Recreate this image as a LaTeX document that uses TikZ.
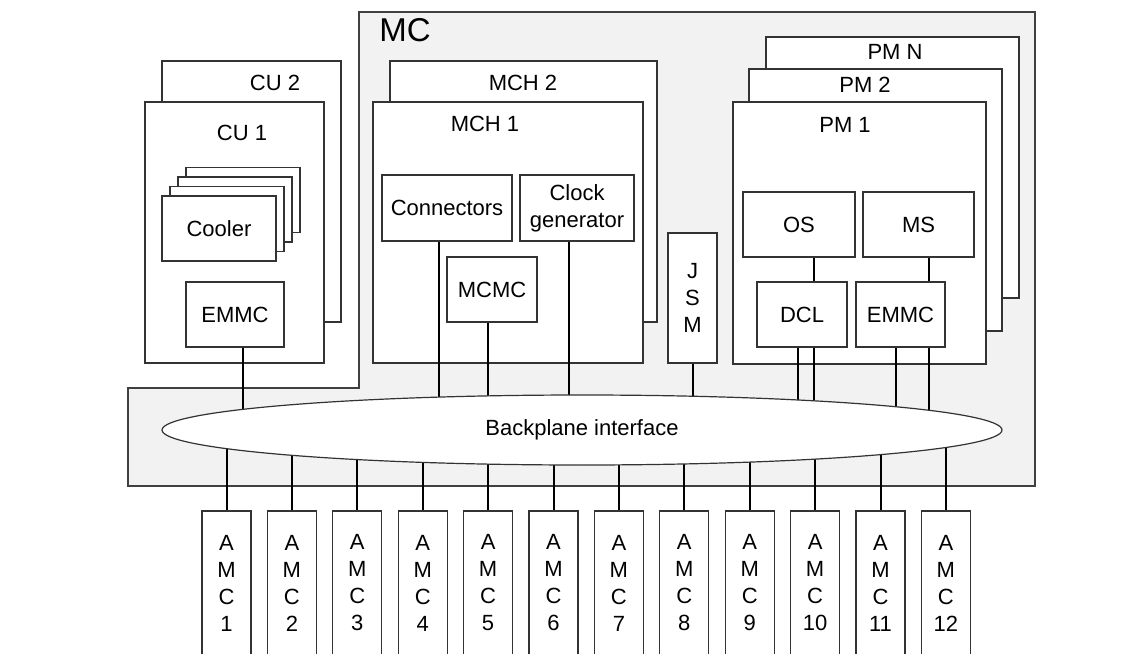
\documentclass[tikz,border=0pt]{standalone}
\usepackage{fontspec}
\setmainfont{Liberation Sans}
\usetikzlibrary{shapes.geometric}
\tikzset{
  unit/.style={draw=black!80, fill=white, line width=1.2pt, inner sep=0pt, align=center},
  wire/.style={line width=2pt, black},
}
\newcommand{\lbl}{\fontsize{22}{27}\selectfont}
\begin{document}
\begin{tikzpicture}[x=1pt, y=-1pt, font=\lbl]
\useasboundingbox (0,0) rectangle (1140,653);
\clip (0,0) rectangle (1140,653);
% MC shelf
\draw[fill=black!5, draw=black!75, line width=1.2pt] (359,12) -- (1035,12) -- (1035,486) -- (128,486) -- (128,388) -- (359,388) -- cycle;
\node[font=\fontsize{33}{33}\selectfont] (mc) at (405,30) {MC};
% cooling units
\node[unit, minimum width=179pt, minimum height=261pt] (cu2) at (251.5,191.5) {};
\node (cu2lbl) at (275,83) {CU 2};
\node[unit, minimum width=179pt, minimum height=261pt] (cu1) at (234.5,232.5) {};
\node (cu1lbl) at (242,133) {CU 1};
\foreach \k in {3,2,1}
  \node[unit, minimum width=114pt, minimum height=65pt] (cool\k) at (219+8*\k, 228.5-9.5*\k) {};
\node[unit, minimum width=114pt, minimum height=65pt] (cooler) at (219,228.5) {Cooler};
\node[unit, minimum width=98pt, minimum height=65pt] (cuemmc) at (235,314.5) {EMMC};
% MCH
\node[unit, minimum width=267pt, minimum height=261pt] (mch2) at (523.5,191.5) {};
\node (mch2lbl) at (523,83) {MCH 2};
\node[unit, minimum width=270pt, minimum height=261pt] (mch1) at (508,232.5) {};
\node (mch1lbl) at (485,124) {MCH 1};
\node[unit, minimum width=130pt, minimum height=66pt] (conn) at (447,208) {Connectors};
\node[unit, minimum width=114pt, minimum height=66pt] (clk) at (577,208) {Clock\\generator};
\node[unit, minimum width=90pt, minimum height=65pt] (mcmc) at (492,289.5) {MCMC};
% JSM
\node[unit, minimum width=49pt, minimum height=130pt] (jsm) at (692.5,298) {J\\S\\M};
% PM
\node[unit, minimum width=253pt, minimum height=261pt] (pmn) at (892.5,167.5) {};
\node (pmnlbl) at (895,52) {PM N};
\node[unit, minimum width=253pt, minimum height=262pt] (pm2) at (875.5,200) {};
\node (pm2lbl) at (865,85) {PM 2};
\node[unit, minimum width=253pt, minimum height=262pt] (pm1) at (859.5,233) {};
\node (pm1lbl) at (845,125) {PM 1};
\node[unit, minimum width=112pt, minimum height=65pt] (os) at (799,224.5) {OS};
\node[unit, minimum width=111pt, minimum height=65pt] (ms) at (918.5,224.5) {MS};
\node[unit, minimum width=90pt, minimum height=65pt] (dcl) at (802,314.5) {DCL};
\node[unit, minimum width=89pt, minimum height=65pt] (pmemmc) at (900.5,314.5) {EMMC};
% wires
\coordinate (bpc) at (582,430);
\draw[wire] ([xshift=15pt]os.south) -- ([xshift=15pt]os.south |- dcl.north);
\draw[wire] ([xshift=10.5pt]ms.south) -- ([xshift=10.5pt]ms.south |- pmemmc.north);
\draw[wire] ([xshift=8pt]cuemmc.south) -- ([xshift=8pt]cuemmc.south |- bpc);
\draw[wire] ([xshift=-8pt]conn.south) -- ([xshift=-8pt]conn.south |- bpc);
\draw[wire] ([xshift=-4pt]mcmc.south) -- ([xshift=-4pt]mcmc.south |- bpc);
\draw[wire] ([xshift=-8pt]clk.south) -- ([xshift=-8pt]clk.south |- bpc);
\draw[wire] (jsm.south) -- (jsm.south |- bpc);
\draw[wire] ([xshift=-4pt]dcl.south) -- ([xshift=-4pt]dcl.south |- bpc);
\draw[wire] ([xshift=12pt]dcl.south) -- ([xshift=12pt]dcl.south |- bpc);
\draw[wire] ([xshift=-4.5pt]pmemmc.south) -- ([xshift=-4.5pt]pmemmc.south |- bpc);
\draw[wire] ([xshift=28.5pt]pmemmc.south) -- ([xshift=28.5pt]pmemmc.south |- bpc);
% AMC slots
\foreach \i in {1,...,12} {
  \node[unit, minimum width=49pt, minimum height=144pt] (amc\i) at ({226.5+65.4*(\i-1)},583) {A\\M\\C\\\i};
  \draw[wire] (amc\i.north) -- (amc\i.north |- bpc);
}
% backplane
\node[unit, ellipse, minimum width=840pt, minimum height=70pt] (bp) at (bpc) {Backplane interface};
\end{tikzpicture}
\end{document}
